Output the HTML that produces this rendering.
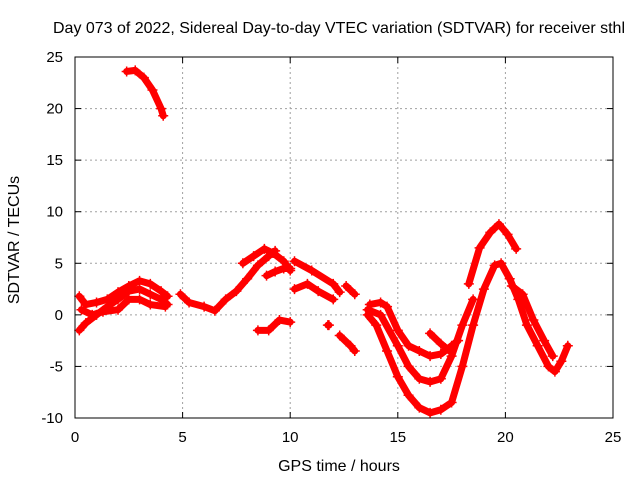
<!DOCTYPE html>
<html><head><meta charset="utf-8"><style>
body{margin:0;background:#fff;}
svg text{font-family:"Liberation Sans",sans-serif;font-size:15px;fill:#000;}
svg text.big{font-size:16px;}
</style></head><body>
<svg id="chart" width="640" height="480">
<text class="big" x="339" y="33" text-anchor="middle" textLength="572" lengthAdjust="spacingAndGlyphs">Day 073 of 2022, Sidereal Day-to-day VTEC variation (SDTVAR) for receiver sthl</text>
<g id="grid"></g>
<g id="axes"></g>
<g id="marks"></g>
<rect x="75" y="57" width="538" height="361" fill="none" stroke="#000" stroke-width="1"/>
<text class="big" x="339" y="471" text-anchor="middle">GPS time / hours</text>
<text class="big" transform="translate(19,240) rotate(-90)" text-anchor="middle">SDTVAR / TECUs</text>
</svg>
<script>
const xTicks=[0,5,10,15,20,25];
const yTicks=[-10,-5,0,5,10,15,20,25];
const track1=[[2.4,23.6],[2.8,23.7],[3.2,23.0],[3.6,21.8],[4.0,20.0],[4.1,19.3]];
const track2=[[0.2,1.8],[0.5,1.0],[1.0,1.2],[1.5,1.5],[2.0,2.2],[2.5,2.8],[3.0,3.3],[3.5,3.0],[4.0,2.3],[4.3,1.8]];
const track3=[[0.2,-1.5],[0.5,-0.8],[1.0,0.0],[1.5,0.8],[2.0,1.5],[2.5,2.3],[3.0,2.5],[3.5,2.0],[4.0,1.5],[4.3,1.0]];
const track4=[[0.3,0.5],[0.8,0.0],[1.3,0.3],[2.0,0.5],[2.5,1.5],[3.0,1.5],[3.5,1.0],[4.2,0.8]];
const track5=[[4.9,2.0],[5.3,1.2],[6.0,0.8],[6.5,0.4],[7.0,1.5],[7.5,2.3],[8.0,3.5],[8.5,4.8],[9.0,5.7],[9.3,6.2]];
const track6=[[7.8,5.0],[8.3,5.7],[8.8,6.4],[9.2,6.0],[9.7,5.2],[10.0,4.3]];
const track7=[[8.9,3.8],[9.3,4.2],[9.7,4.5],[10.0,4.5]];
const track8=[[8.5,-1.5],[9.0,-1.5],[9.5,-0.5],[10.0,-0.7]];
const track9=[[10.2,5.2],[11.0,4.3],[12.0,3.0],[12.3,2.2]];
const track10=[[10.2,2.5],[10.8,3.0],[11.3,2.3],[12.0,1.5]];
const track11=[[12.6,2.8],[13.0,2.0]];
const track12=[[12.3,-2.0],[12.8,-3.0],[13.0,-3.5]];
const track13=[[11.75,-1.0],[11.8,-1.0]];
const track14=[[13.7,1.0],[14.2,1.2],[14.5,0.8],[15.0,-1.5],[15.5,-3.0],[16.0,-3.5],[16.5,-4.0],[17.0,-3.8],[17.5,-3.0],[17.8,-2.5]];
const track15=[[16.5,-1.8],[17.0,-2.8],[17.4,-3.5]];
const track16=[[13.6,0.5],[14.2,0.0],[15.0,-3.0],[15.5,-5.0],[16.0,-6.2],[16.5,-6.5],[17.0,-6.2],[17.5,-4.0],[18.0,-1.0],[18.5,1.5]];
const track17=[[13.6,0.0],[14.0,-1.0],[14.5,-3.5],[15.0,-6.0],[15.5,-7.8],[16.0,-9.0],[16.5,-9.5],[17.0,-9.2],[17.5,-8.5],[18.0,-5.0],[18.5,-1.0],[19.0,2.5],[19.5,4.8],[19.8,5.0],[20.2,3.5],[20.6,1.5],[21.0,-1.0],[21.5,-3.0],[22.0,-5.0],[22.3,-5.5],[22.6,-4.5],[22.9,-3.0]];
const track18=[[18.3,3.0],[18.8,6.5],[19.3,8.0],[19.7,8.8],[20.1,7.8],[20.5,6.4]];
const track19=[[20.3,2.8],[20.8,2.0],[21.3,-0.5],[21.8,-2.5],[22.2,-4.0]];
const tracks=[track1,track2,track3,track4,track5,track6,track7,track8,track9,track10,track11,track12,track13,track14,track15,track16,track17,track18,track19];

const X0=75,X1=613,Y0=418,Y1=57;
const xs=v=>X0+(v-0)/(25-0)*(X1-X0);
const ys=v=>Y0-(v+10)/(35)*(Y0-Y1);
const NS='http://www.w3.org/2000/svg';
const grid=document.getElementById('grid'),axes=document.getElementById('axes'),marks=document.getElementById('marks');
function mk(tag,attrs,parent){const e=document.createElementNS(NS,tag);for(const k in attrs)e.setAttribute(k,attrs[k]);parent.appendChild(e);return e;}
xTicks.forEach(t=>{
  const x=xs(t);
  if(t>0&&t<25){const g=mk('line',{x1:x,x2:x,y1:Y1,y2:Y0,stroke:'#a0a0a0','stroke-dasharray':'2,3'},grid);
  
  }
  mk('line',{x1:x,x2:x,y1:Y0,y2:Y0-6,stroke:'#000'},axes);
  mk('line',{x1:x,x2:x,y1:Y1,y2:Y1+6,stroke:'#000'},axes);
  const l=mk('text',{x:x,y:Y0+24,'text-anchor':'middle'},axes);l.textContent=t;
  
  
});
yTicks.forEach(t=>{
  const y=ys(t);
  if(t>-10&&t<25){const g=mk('line',{x1:X0,x2:X1,y1:y,y2:y,stroke:'#a0a0a0','stroke-dasharray':'2,3'},grid);
  
  }
  mk('line',{x1:X0,x2:X0+6,y1:y,y2:y,stroke:'#000'},axes);
  mk('line',{x1:X1,x2:X1-6,y1:y,y2:y,stroke:'#000'},axes);
  const l=mk('text',{x:X0-12,y:y+5,'text-anchor':'end'},axes);l.textContent=t;
  
  
});
tracks.forEach((tr,i)=>{
  const p=mk('polyline',{points:tr.map(d=>xs(d[0])+','+ys(d[1])).join(' '),fill:'none',stroke:'#ff0000','stroke-width':7,'stroke-linejoin':'round','stroke-linecap':'round'},marks);
  
  
  tr.forEach(d=>{
    const x=xs(d[0]),y=ys(d[1]);
    const m=mk('path',{d:`M${x-5},${y}H${x+5}M${x},${y-5}V${y+5}`,stroke:'#ff0000','stroke-width':1.5},marks);
    
    
  });
});
</script>
</body></html>
